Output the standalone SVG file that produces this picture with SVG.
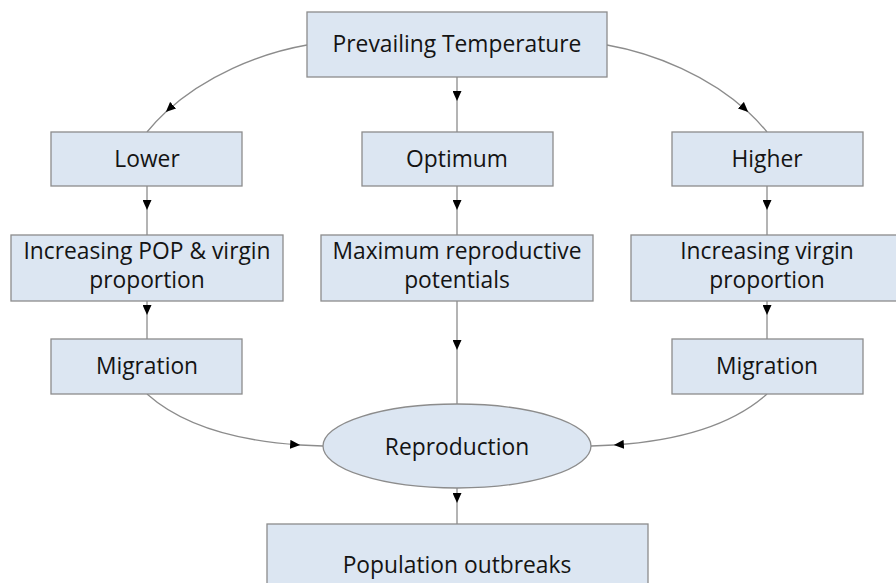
<svg xmlns="http://www.w3.org/2000/svg" width="896" height="583" viewBox="0 0 896 583">
<defs>
<marker id="ah" markerUnits="userSpaceOnUse" markerWidth="11" markerHeight="9" refX="10" refY="4.5" orient="auto" viewBox="0 0 11 9">
<path d="M0,0 L10,4.5 L0,9 z" fill="#000"/>
</marker>
</defs>
<style>
.box{fill:#dce6f2;stroke:#8c8c8c;stroke-width:1.3}
.t{font-family:"Open Sans","Noto Sans",sans-serif;font-size:22.8px;fill:#141414;text-anchor:middle}
.c{fill:none;stroke:#8c8c8c;stroke-width:1.3;marker-mid:url(#ah)}
</style>
<rect width="896" height="583" fill="#fff"/>
<g id="connectors">
<path class="c" d="M457,77 L457,101 L457,132"/>
<path class="c" d="M147,186 L147,210 L147,235"/>
<path class="c" d="M457,186 L457,210 L457,235"/>
<path class="c" d="M767,186 L767,210 L767,235"/>
<path class="c" d="M147,301 L147,315 L147,339"/>
<path class="c" d="M767,301 L767,315 L767,339"/>
<path class="c" d="M457,301 L457,350 L457,404"/>
<path class="c" d="M457,488 L457,503 L457,524"/>
<path class="c" d="M307,45 C258.55,53.5 204.32,76.45 165.81,112.01 C159.01,118.28 152.7,124.95 147,132"/>
<path class="c" d="M607,45 C655.45,53.5 709.68,76.45 748.19,112.01 C754.99,118.28 761.3,124.95 767,132"/>
<path class="c" d="M147,394 C181.2,424.6 233.22,440.62 300.14,444.98 C307.58,445.46 315.2,445.8 323,446"/>
<path class="c" d="M767,394 C732.8,424.6 680.78,440.62 613.86,444.98 C606.42,445.46 598.8,445.8 591,446"/>
</g>
<g id="prevailing"><rect class="box" x="307" y="12" width="300" height="65"/><text class="t" x="457" y="52">Prevailing Temperature</text></g>
<g id="lower"><rect class="box" x="51" y="132" width="191" height="54"/><text class="t" x="147" y="167">Lower</text></g>
<g id="optimum"><rect class="box" x="362" y="132" width="191" height="54"/><text class="t" x="457" y="167">Optimum</text></g>
<g id="higher"><rect class="box" x="672" y="132" width="191" height="54"/><text class="t" x="767" y="167">Higher</text></g>
<g id="incpop"><rect class="box" x="11" y="235" width="272" height="66"/><text class="t" x="147" y="259">Increasing POP &amp; virgin</text><text class="t" x="147" y="288">proportion</text></g>
<g id="maxrep"><rect class="box" x="321" y="235" width="272" height="66"/><text class="t" x="457" y="259">Maximum reproductive</text><text class="t" x="457" y="288">potentials</text></g>
<g id="incvirgin"><rect class="box" x="631" y="235" width="272" height="66"/><text class="t" x="767" y="259">Increasing virgin</text><text class="t" x="767" y="288">proportion</text></g>
<g id="migleft"><rect class="box" x="51" y="339" width="191" height="55"/><text class="t" x="147" y="374">Migration</text></g>
<g id="migright"><rect class="box" x="672" y="339" width="191" height="55"/><text class="t" x="767" y="374">Migration</text></g>
<g id="reproduction"><ellipse class="box" cx="457" cy="446" rx="134" ry="42"/><text class="t" x="457" y="455">Reproduction</text></g>
<g id="outbreaks"><rect class="box" x="267" y="524" width="381" height="70"/><text class="t" x="457" y="573">Population outbreaks</text></g>
</svg>
